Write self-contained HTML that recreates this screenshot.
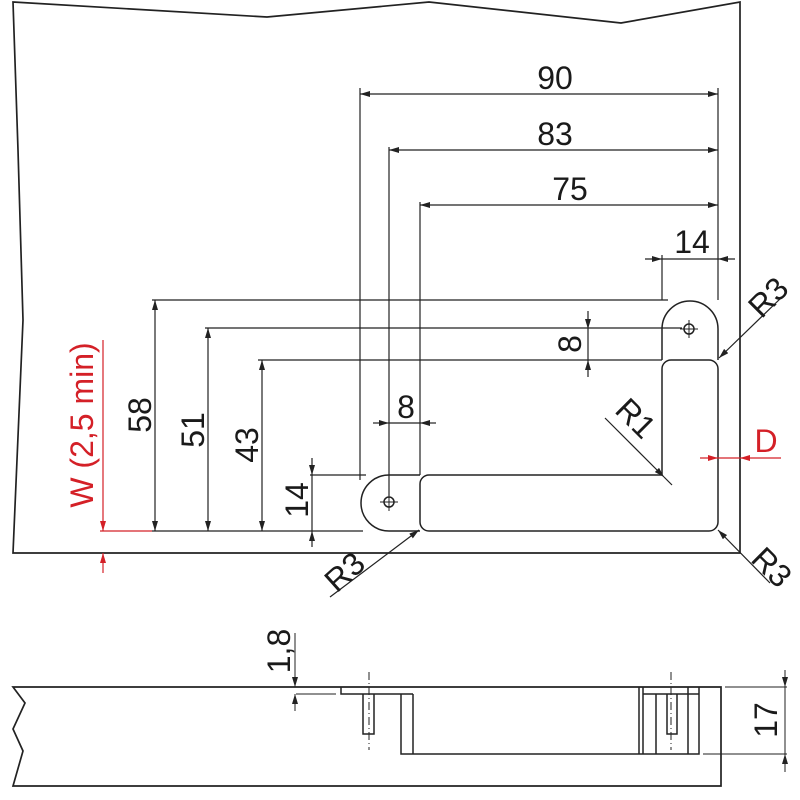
<!DOCTYPE html>
<html><head><meta charset="utf-8"><style>
html,body{margin:0;padding:0;background:#fff;width:800px;height:800px;overflow:hidden}
svg{display:block}
text{font-family:"Liberation Sans",Arial,sans-serif;fill:#1a1a1a}
.r{fill:#d42027}
</style></head><body>
<svg width="800" height="800" viewBox="0 0 800 800" xmlns="http://www.w3.org/2000/svg">
<defs>
<marker id="a" viewBox="0 0 10 6" refX="10" refY="3" markerWidth="10" markerHeight="6" markerUnits="userSpaceOnUse" orient="auto-start-reverse"><path d="M0,0L10,3L0,6z" fill="#222"/></marker>
<marker id="ar" viewBox="0 0 10 6" refX="10" refY="3" markerWidth="10" markerHeight="6" markerUnits="userSpaceOnUse" orient="auto-start-reverse"><path d="M0,0L10,3L0,6z" fill="#d42027"/></marker>
</defs>
<g fill="none" stroke="#222" stroke-width="1.5">
<path d="M13,2 L267,17 L429,2 L621,23 L740,2 L740,553 L13,553 L23,320 L18,150 Z" stroke-width="1.7"/>
<path d="M662,360 L662,329 A28,28 0 0 1 718,329 L718,360"/>
<path d="M671,360 L709,360 A9,9 0 0 1 718,369 L718,522 A9,9 0 0 1 709,531 L429,531 A9,9 0 0 1 420,522 L420,484 A9,9 0 0 1 429,475 L662,475 L662,369 A9,9 0 0 1 671,360 Z"/>
<path d="M420,475 L389,475 A28,28 0 0 0 389,531 L420,531"/>
<circle cx="689" cy="329" r="5"/><path d="M680,329h18M689,320v18" stroke-width="1"/>
<circle cx="389" cy="502" r="5"/><path d="M380,502h18M389,493v18" stroke-width="1"/>
</g>
<g fill="none" stroke="#222" stroke-width="1.2">
<path d="M360,88V480M389,147V496M420,202V475M718,88V300"/>
<path d="M360,94H718" marker-start="url(#a)" marker-end="url(#a)"/>
<path d="M389,150H718" marker-start="url(#a)" marker-end="url(#a)"/>
<path d="M420,205H718" marker-start="url(#a)" marker-end="url(#a)"/>
<path d="M662,255V300"/>
<path d="M645,259H662" marker-end="url(#a)"/><path d="M735,259H718" marker-end="url(#a)"/><path d="M662,259H718"/>
<path d="M152,300H668M205,328H682M258,360H662M152,531H363M310,475H366"/>
<path d="M155,300V531" marker-start="url(#a)" marker-end="url(#a)"/>
<path d="M208,328V531" marker-start="url(#a)" marker-end="url(#a)"/>
<path d="M262,360V531" marker-start="url(#a)" marker-end="url(#a)"/>
<path d="M312,458V475" marker-end="url(#a)"/><path d="M312,547V531" marker-end="url(#a)"/><path d="M312,475V531"/>
<path d="M373,423H389" marker-end="url(#a)"/><path d="M436,423H420" marker-end="url(#a)"/><path d="M389,423H420"/>
<path d="M588,311V329" marker-end="url(#a)"/><path d="M588,377V360" marker-end="url(#a)"/><path d="M588,329V360"/>
<path d="M605,418L664,477" marker-end="url(#a)"/><path d="M664,477L672,485"/>
<path d="M782,297L719,358" marker-end="url(#a)"/>
<path d="M770,583L718,530" marker-end="url(#a)"/>
<path d="M330,597L419,530" marker-end="url(#a)"/>
</g>
<g fill="none" stroke="#d42027" stroke-width="1.2">
<path d="M100,531H152"/>
<path d="M103,340V531" marker-end="url(#ar)"/><path d="M103,573V553" marker-end="url(#ar)"/>
<path d="M700,458H718" marker-end="url(#ar)"/><path d="M781,458H740" marker-end="url(#ar)"/><path d="M718,458H740"/>
</g>
<g fill="none" stroke="#222" stroke-width="1.5">
<path d="M13,687 L721,687 L721,786 L13,786 L23,751 L13,729 L25,703 Z" stroke-width="1.7"/>
<path d="M341,687V694H413M401,694V754H699V687M413,694V754"/>
<path d="M363,694V734H374V694"/>
<path d="M639,687V754M643,687V754M656,694V754M688,687V754M643,694H699"/>
<path d="M667,694V734H677V694"/>
</g>
<g fill="none" stroke="#222" stroke-width="1">
<path d="M369,672V750M671,672V750" stroke-dasharray="8,3,1,3"/>
<path d="M296,694H336M725,687H787M703,754H787"/>
<path d="M295,633V687" marker-end="url(#a)"/><path d="M295,711V694" marker-end="url(#a)"/>
<path d="M785,670V687" marker-end="url(#a)"/><path d="M785,772V754" marker-end="url(#a)"/><path d="M785,687V754"/>
</g>
<g font-size="32">
<text x="555" y="89" text-anchor="middle">90</text>
<text x="555" y="145" text-anchor="middle">83</text>
<text x="570" y="200" text-anchor="middle">75</text>
<text x="692" y="253" text-anchor="middle">14</text>
<text x="406" y="418" text-anchor="middle">8</text>
<text transform="translate(151,415) rotate(-90)" text-anchor="middle">58</text>
<text transform="translate(204,430) rotate(-90)" text-anchor="middle">51</text>
<text transform="translate(258,445) rotate(-90)" text-anchor="middle">43</text>
<text transform="translate(308,500) rotate(-90)" text-anchor="middle">14</text>
<text transform="translate(581,344) rotate(-90)" text-anchor="middle">8</text>
<text transform="translate(628,426) rotate(45)" text-anchor="middle">R1</text>
<text transform="translate(776,305) rotate(-45)" text-anchor="middle">R3</text>
<text transform="translate(764,575) rotate(45)" text-anchor="middle">R3</text>
<text transform="translate(352,580) rotate(-42)" text-anchor="middle">R3</text>
<text class="r" x="766" y="452" text-anchor="middle">D</text>
<text class="r" transform="translate(93,425) rotate(-90)" text-anchor="middle">W (2,5 min)</text>
<text transform="translate(290,651) rotate(-90)" text-anchor="middle">1,8</text>
<text transform="translate(777,720) rotate(-90)" text-anchor="middle">17</text>
</g>
</svg>
</body></html>
